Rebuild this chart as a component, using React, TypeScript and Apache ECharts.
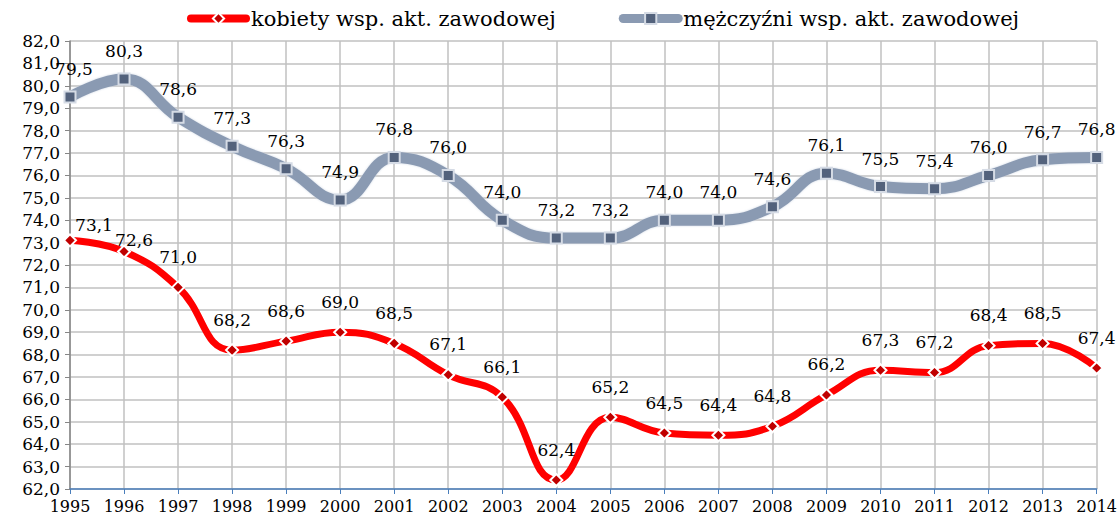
import React, { useEffect, useRef } from "react";
import * as echarts from "echarts";

const years = ["1995","1996","1997","1998","1999","2000","2001","2002","2003","2004","2005","2006","2007","2008","2009","2010","2011","2012","2013","2014"];
const women = [73.1,72.6,71.0,68.2,68.6,69.0,68.5,67.1,66.1,62.4,65.2,64.5,64.4,64.8,66.2,67.3,67.2,68.4,68.5,67.4];
const men = [79.5,80.3,78.6,77.3,76.3,74.9,76.8,76.0,74.0,73.2,73.2,74.0,74.0,74.6,76.1,75.5,75.4,76.0,76.7,76.8];
const womenName = "kobiety wsp. akt. zawodowej";
const menName = "mężczyźni wsp. akt. zawodowej";

const FONT = "DejaVu Serif";
const fmt = (v: number) => v.toFixed(1).replace(".", ",");

export default function App() {
  const ref = useRef<HTMLDivElement>(null);
  useEffect(() => {
    const chart = echarts.init(ref.current!, null, { renderer: "svg" });
    const womenData = women.map((v, i) => {
      if (i === 0) return { value: v, label: { offset: [24, 15] } };
      if (i === 1) return { value: v, label: { offset: [10, 19] } };
      return v;
    });
    const menData = men.map((v, i) => (i === 0 ? { value: v, label: { offset: [4, 0] } } : v));
    chart.setOption({
      animation: false,
      backgroundColor: "#ffffff",
      textStyle: { fontFamily: FONT, color: "#000" },
      legend: {
        top: 8,
        left: 187,
        padding: 0,
        itemGap: 63,
        itemWidth: 55,
        itemHeight: 14,
        textStyle: { fontFamily: FONT, fontSize: 21, color: "#000" },
        data: [
          { name: womenName, lineStyle: { width: 8, color: "#ff0000", cap: "round" } },
          { name: menName, lineStyle: { width: 9, color: "#8a9ab2", cap: "round" } },
        ],
      },
      grid: { left: 70, right: 23, top: 41, bottom: 30, containLabel: false },
      xAxis: {
        type: "category",
        data: years,
        boundaryGap: false,
        axisLine: { lineStyle: { color: "#4a7ebb", width: 1.5 } },
        axisTick: { show: true, length: 5, lineStyle: { color: "#4a7ebb" } },
        axisLabel: { fontFamily: FONT, fontSize: 16, color: "#000", margin: 9 },
        splitLine: { show: true, lineStyle: { color: "#c0c0c0", width: 1.5 } },
      },
      yAxis: {
        type: "value",
        min: 62,
        max: 82,
        interval: 1,
        axisLine: { show: true, lineStyle: { color: "#868686", width: 1.5 } },
        axisTick: { show: true, length: 5, lineStyle: { color: "#868686" } },
        axisLabel: { fontFamily: FONT, fontSize: 17, color: "#000", margin: 10, formatter: (v: number) => fmt(v) },
        splitLine: { show: true, lineStyle: { color: "#c0c0c0", width: 1.5 } },
      },
      series: [
        {
          name: menName,
          type: "line",
          data: menData,
          smooth: 0.45,
          symbol: "rect",
          symbolSize: 11,
          itemStyle: { color: "#53627c", borderColor: "#d5dbe5", borderWidth: 2 },
          lineStyle: { color: "#8a9ab2", width: 11, shadowColor: "rgba(200,210,225,0.9)", shadowBlur: 2 },
          label: {
            show: true,
            position: "top",
            distance: 13,
            fontFamily: FONT,
            fontSize: 17,
            color: "#000",
            formatter: (p: any) => fmt(p.value),
          },
          z: 2,
        },
        {
          name: womenName,
          type: "line",
          data: womenData,
          smooth: 0.45,
          symbol: "diamond",
          symbolSize: 12,
          itemStyle: { color: "#c00000", borderColor: "#ffffff", borderWidth: 2 },
          lineStyle: { color: "#ff0000", width: 7 },
          label: {
            show: true,
            position: "top",
            distance: 15,
            fontFamily: FONT,
            fontSize: 17,
            color: "#000",
            formatter: (p: any) => fmt(p.value),
          },
          z: 3,
        },
      ],
    });
    return () => chart.dispose();
  }, []);
  return <div ref={ref} style={{ position: "fixed", left: 0, top: 0, width: 1120, height: 519 }} />;
}
